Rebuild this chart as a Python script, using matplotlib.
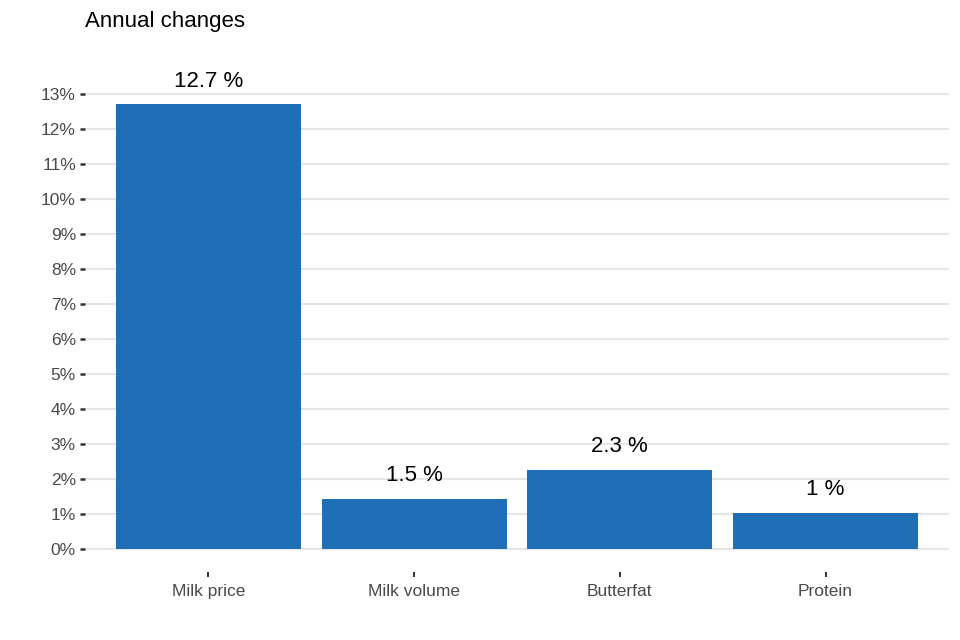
import matplotlib
matplotlib.use('Agg')
from matplotlib import pyplot as plt
import numpy as np

plt.rcParams['font.family'] = ['Liberation Sans', 'DejaVu Sans']

categories = ['Milk price', 'Milk volume', 'Butterfat', 'Protein']
values = [12.71, 1.43, 2.26, 1.03]
value_labels = ['12.7 %', '1.5 %', '2.3 %', '1 %']
yticks = list(range(0, 14))

fig = plt.figure(figsize=(9.6, 6.4), dpi=100)
ax = fig.add_axes([85/960, (640-572)/640, (949-85)/960, (572-59)/640])

x = np.arange(len(categories))
ax.bar(x, values, width=0.9, color='#1e6fb6', zorder=3)

for xi, v, lab in zip(x, values, value_labels):
    ax.annotate(lab, (xi, v), xytext=(0, 16.5), textcoords='offset points',
                ha='center', va='center', fontsize=16, color='black')

ax.set_xlim(-0.6, len(categories) - 0.4)
ax.set_ylim(-0.66, 14)
ax.set_yticks(yticks)
ax.set_yticklabels([f'{t}%' for t in yticks])
ax.set_xticks(x)
ax.set_xticklabels(categories)

ax.grid(axis='y', color='#e6e6e6', linewidth=1.5, zorder=0)
for s in ax.spines.values():
    s.set_visible(False)
ax.tick_params(axis='y', length=3.5, width=1.8, color='#333333', labelsize=12.5,
               labelcolor='#4a4a4a', pad=3)
ax.tick_params(axis='x', length=3.5, width=1.4, color='#333333', labelsize=12.5,
               labelcolor='#4a4a4a', pad=5)

fig.text(85/960, 1 - 21/640, 'Annual changes', fontsize=16, ha='left', va='center')

fig.savefig('out.png', dpi=100)
